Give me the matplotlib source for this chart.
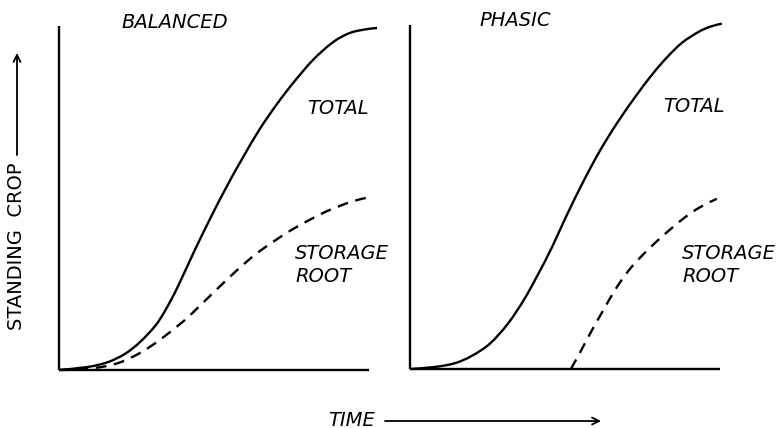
import matplotlib
matplotlib.use("Agg")
import matplotlib.pyplot as plt
from matplotlib.path import Path
from matplotlib.patches import PathPatch, FancyArrowPatch

# ---- data (arbitrary units: time 0-10, standing crop 0-100) ----
bal_total_t = [0, 0.94, 1.58, 2.13, 2.61, 3.10, 3.42, 3.81, 4.32, 4.87, 5.42, 5.94,
               6.48, 7.03, 7.55, 8.19, 8.84, 9.39, 9.94, 10.26]
bal_total_y = [0, 0.9, 2.3, 4.7, 8.1, 12.8, 17.2, 23.8, 33.7, 43.9, 53.5, 61.9,
               70.1, 77.3, 83.4, 90.1, 95.3, 98.0, 99.1, 99.4]
bal_root_t = [0, 0.68, 1.39, 2.03, 2.68, 3.26, 3.84, 4.13, 4.48, 4.97, 5.42, 5.94,
              6.48, 7.03, 7.35, 7.77, 8.16, 8.65, 9.39, 9.94]
bal_root_y = [0, 0.3, 0.9, 2.4, 5.3, 8.8, 12.9, 15.1, 18.1, 22.4, 26.3, 30.6,
              34.6, 38.0, 39.9, 42.1, 44.0, 46.2, 48.8, 50.1]

pha_total_t = [0, 0.81, 1.45, 1.99, 2.58, 3.16, 3.68, 4.13, 4.58, 5.03, 5.58, 6.13,
               6.71, 7.29, 7.81, 8.29, 8.77, 9.29, 9.68, 10.06]
pha_total_y = [0, 0.6, 1.7, 3.8, 7.4, 13.2, 20.2, 27.5, 35.4, 44.2, 54.3, 63.5,
               71.9, 79.4, 85.6, 90.6, 94.8, 97.9, 99.5, 100.4]
pha_root_t = [5.19, 5.52, 5.84, 6.23, 6.68, 7.16, 7.68, 8.23, 8.87, 9.35, 9.90]
pha_root_y = [0, 5.4, 10.8, 17.0, 23.9, 29.8, 34.7, 39.3, 44.1, 47.0, 49.5]

panel_titles = ["BALANCED", "PHASIC"]
curve_labels = ["TOTAL", "STORAGE\nROOT"]
x_label = "TIME"
y_label = "STANDING  CROP"

W, H = 784, 428
fig = plt.figure(figsize=(W / 100, H / 100), dpi=100)
fig.patch.set_facecolor("white")


def fx(px):
    return px / W


def fy(py):
    return 1 - py / H


def smooth_path(xs, ys):
    """Smooth drawing path through the read points (Catmull-Rom as Bezier)."""
    pts = list(zip(xs, ys))
    verts = [pts[0]]
    codes = [Path.MOVETO]
    n = len(pts)
    for i in range(n - 1):
        p0 = pts[i - 1] if i > 0 else pts[i]
        p1 = pts[i]
        p2 = pts[i + 1]
        p3 = pts[i + 2] if i + 2 < n else pts[i + 1]
        c1 = (p1[0] + (p2[0] - p0[0]) / 6, p1[1] + (p2[1] - p0[1]) / 6)
        c2 = (p2[0] - (p3[0] - p1[0]) / 6, p2[1] - (p3[1] - p1[1]) / 6)
        verts += [c1, c2, p2]
        codes += [Path.CURVE4] * 3
    return Path(verts, codes)


lw = 1.7
panels = [
    (59, 370, bal_total_t, bal_total_y, bal_root_t, bal_root_y),
    (410, 369, pha_total_t, pha_total_y, pha_root_t, pha_root_y),
]
for ox, oy, tt, ty, rt, ry in panels:
    ax = fig.add_axes([fx(ox), fy(oy), 310 / W, 344 / H])
    ax.set_xlim(0, 10)
    ax.set_ylim(0, 100)
    ax.axis("off")
    ax.plot([0, 0], [0, 100], color="black", lw=lw, solid_capstyle="butt", clip_on=False)
    ax.plot([0, 10], [0, 0], color="black", lw=lw, solid_capstyle="butt", clip_on=False)
    ax.add_patch(PathPatch(smooth_path(tt, ty), facecolor="none", edgecolor="black",
                           lw=lw, clip_on=False))
    ax.add_patch(PathPatch(smooth_path(rt, ry), facecolor="none", edgecolor="black",
                           lw=lw, linestyle=(0, (4.6, 3.2)), clip_on=False))

fs = 14
txt = dict(fontsize=fs, style="italic", family="DejaVu Sans", color="black")

# panel titles
fig.text(fx(175), fy(22), panel_titles[0], ha="center", va="center", **txt)
fig.text(fx(515), fy(21), panel_titles[1], ha="center", va="center", **txt)

# curve labels
fig.text(fx(338), fy(109), curve_labels[0], ha="center", va="center", **txt)
fig.text(fx(694), fy(107), curve_labels[0], ha="center", va="center", **txt)
fig.text(fx(295), fy(265), curve_labels[1], ha="left", va="center",
         linespacing=1.25, **txt)
fig.text(fx(682), fy(265), curve_labels[1], ha="left", va="center",
         linespacing=1.25, **txt)

# y label with arrow
fig.text(fx(17), fy(246), y_label, rotation=90, ha="center", va="center",
         fontsize=fs, family="DejaVu Sans", color="black")
fig.add_artist(FancyArrowPatch(
    (fx(17), fy(155)), (fx(17), fy(53)), transform=fig.transFigure,
    arrowstyle="->,head_length=5,head_width=2.5", color="black", lw=1.3,
    shrinkA=0, shrinkB=0))

# x label with arrow
fig.text(fx(352), fy(420), x_label, ha="center", va="center", **txt)
fig.add_artist(FancyArrowPatch(
    (fx(385), fy(421)), (fx(601), fy(421)), transform=fig.transFigure,
    arrowstyle="->,head_length=5,head_width=2.5", color="black", lw=1.3,
    shrinkA=0, shrinkB=0))

fig.savefig("out.png", dpi=100, facecolor="white")
